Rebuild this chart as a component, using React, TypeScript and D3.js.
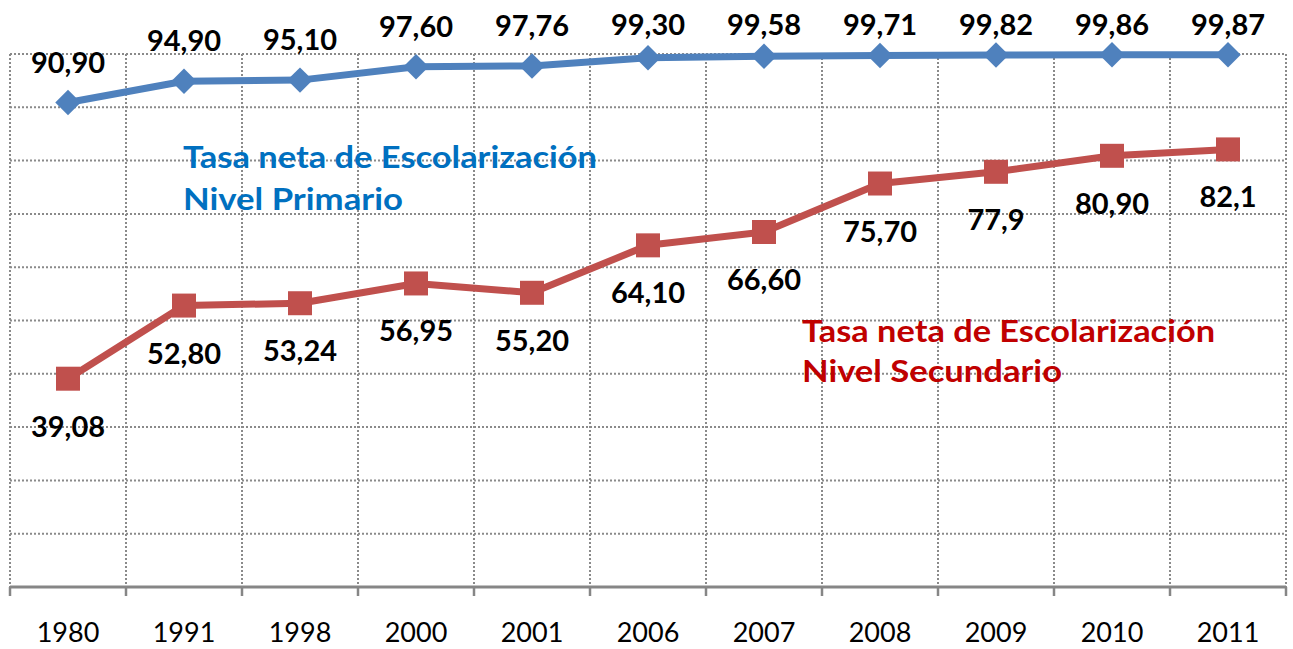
import React from 'react';
import * as d3 from 'd3';

const years = ['1980', '1991', '1998', '2000', '2001', '2006', '2007', '2008', '2009', '2010', '2011'];
const primario = [90.9, 94.9, 95.1, 97.6, 97.76, 99.3, 99.58, 99.71, 99.82, 99.86, 99.87];
const secundario = [39.08, 52.8, 53.24, 56.95, 55.2, 64.1, 66.6, 75.7, 77.9, 80.9, 82.1];
const primarioLabels = ['90,90', '94,90', '95,10', '97,60', '97,76', '99,30', '99,58', '99,71', '99,82', '99,86', '99,87'];
const secundarioLabels = ['39,08', '52,80', '53,24', '56,95', '55,20', '64,10', '66,60', '75,70', '77,9', '80,90', '82,1'];
const yTicks = [10, 20, 30, 40, 50, 60, 70, 80, 90, 100];
const legendPrimario = ['Tasa neta de Escolarización', 'Nivel Primario'];
const legendSecundario = ['Tasa neta de Escolarización', 'Nivel Secundario'];

const W = 1293;
const H = 649;
const FONT = 'Lato, Carlito, "Open Sans", sans-serif';

const App: React.FC = () => {
  const margin = { top: 54, right: 7, bottom: 62, left: 10 };

  const x = d3.scaleBand<string>()
    .domain(years)
    .range([margin.left, W - margin.right])
    .paddingInner(0)
    .paddingOuter(0);

  const y = d3.scaleLinear()
    .domain([0, 100])
    .range([H - margin.bottom, margin.top]);

  const cx = (d: string) => (x(d) || 0) + x.bandwidth() / 2;

  const linePrim = d3.line<number>()
    .x((_, i) => cx(years[i]))
    .y(d => y(d));

  const lineSec = d3.line<number>()
    .x((_, i) => cx(years[i]))
    .y(d => y(d));

  const square = d3.symbol().type(d3.symbolSquare).size(24 * 24)();
  const diamond = d3.symbol().type(d3.symbolSquare).size(18 * 18)();

  // band edges for vertical grid + ticks
  const edges = years.map(d => x(d) || 0).concat([W - margin.right]);
  const gridColor = '#8a8a8a';

  return (
    <svg width={W} height={H} style={{ position: 'absolute', left: 0, top: 0, background: '#fff' }}>
      {/* Horizontal gridlines */}
      {yTicks.map(t => (
        <line key={'h' + t} x1={margin.left} x2={W - margin.right} y1={y(t)} y2={y(t)}
          stroke={gridColor} strokeWidth={2} strokeDasharray="2,2" />
      ))}
      {/* Vertical gridlines */}
      {edges.map((e, i) => (
        <line key={'v' + i} x1={e} x2={e} y1={y(100)} y2={y(0)}
          stroke={gridColor} strokeWidth={2} strokeDasharray="2,2" />
      ))}
      {/* X axis */}
      <line x1={margin.left} x2={W - margin.right} y1={y(0)} y2={y(0)} stroke="#868686" strokeWidth={3} />
      {edges.map((e, i) => (
        <line key={'t' + i} x1={e} x2={e} y1={y(0)} y2={y(0) + 9} stroke="#868686" strokeWidth={2.5} />
      ))}
      {years.map(d => (
        <text key={'y' + d} x={cx(d)} y={642} textAnchor="middle" fontFamily={FONT} fontSize={27} fill="#000">
          {d}
        </text>
      ))}

      {/* Lines */}
      <path d={linePrim(primario) || ''} fill="none" stroke="#4F81BD" strokeWidth={7} strokeLinejoin="round" />
      <path d={lineSec(secundario) || ''} fill="none" stroke="#C0504D" strokeWidth={7} strokeLinejoin="round" />

      {/* Markers */}
      {primario.map((v, i) => (
        <path key={'dp' + i} d={diamond || ''} fill="#4F81BD"
          transform={`translate(${cx(years[i])},${y(v)}) rotate(45)`} />
      ))}
      {secundario.map((v, i) => (
        <path key={'sq' + i} d={square || ''} fill="#C0504D"
          transform={`translate(${cx(years[i])},${y(v)})`} />
      ))}

      {/* Data labels (top ones are kept inside the chart, like Excel does) */}
      {primario.map((v, i) => (
        <text key={'lp' + i} x={cx(years[i])} y={Math.max(y(v) - 30, 35)} textAnchor="middle"
          fontFamily={FONT} fontWeight="bold" fontSize={29} fill="#000">
          {primarioLabels[i]}
        </text>
      ))}
      {secundario.map((v, i) => (
        <text key={'ls' + i} x={cx(years[i])} y={y(v) + 58} textAnchor="middle"
          fontFamily={FONT} fontWeight="bold" fontSize={29} fill="#000">
          {secundarioLabels[i]}
        </text>
      ))}

      {/* Series annotations */}
      <text x={183} y={168} fontFamily={FONT} fontWeight="bold" fontSize={31} fill="#0070C0"
        textLength={414} lengthAdjust="spacingAndGlyphs">{legendPrimario[0]}</text>
      <text x={183} y={210} fontFamily={FONT} fontWeight="bold" fontSize={31} fill="#0070C0"
        textLength={220} lengthAdjust="spacingAndGlyphs">{legendPrimario[1]}</text>
      <text x={802} y={342} fontFamily={FONT} fontWeight="bold" fontSize={31} fill="#C00000"
        textLength={413} lengthAdjust="spacingAndGlyphs">{legendSecundario[0]}</text>
      <text x={802} y={382} fontFamily={FONT} fontWeight="bold" fontSize={31} fill="#C00000"
        textLength={260} lengthAdjust="spacingAndGlyphs">{legendSecundario[1]}</text>
    </svg>
  );
};

export default App;
